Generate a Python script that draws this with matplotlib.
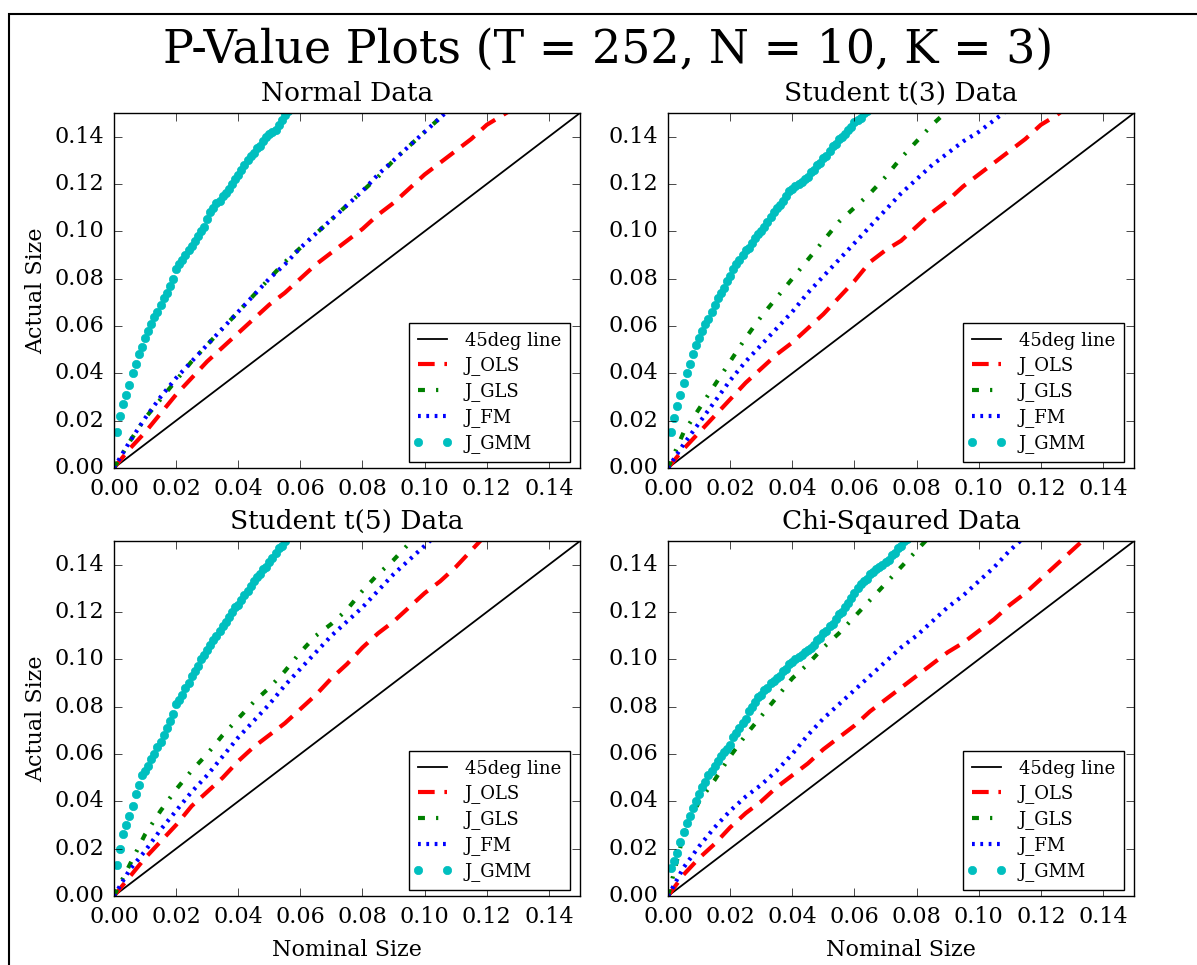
import numpy as np
import matplotlib
matplotlib.use('Agg')
import matplotlib.pyplot as plt
from matplotlib.patches import Rectangle
from matplotlib.lines import Line2D
from matplotlib.legend_handler import HandlerLine2D
from matplotlib.ticker import FormatStrFormatter

plt.style.use('classic')
plt.rcParams['font.family'] = 'serif'
plt.rcParams['lines.scale_dashes'] = False

# nominal size grids (fine grid for GMM markers, coarse for the lines)
nominal_fine = np.round(np.arange(1, 90) * 0.001, 3)
nominal_coarse = np.round(np.arange(0, 31) * 0.005, 3)

titles = ['Normal Data', 'Student t(3) Data', 'Student t(5) Data', 'Chi-Sqaured Data']

# J_OLS, on the coarse grid
ols_normal = [0.000, 0.008, 0.015, 0.023, 0.031, 0.038, 0.045, 0.051, 0.057, 0.063, 0.069,
              0.074, 0.080, 0.086, 0.091, 0.096, 0.101, 0.107, 0.112, 0.118, 0.124, 0.129,
              0.134, 0.139, 0.145, 0.149, 0.153]
ols_t3 = [0.000, 0.008, 0.015, 0.022, 0.029, 0.036, 0.042, 0.048, 0.053, 0.059, 0.065,
          0.072, 0.079, 0.087, 0.092, 0.096, 0.102, 0.108, 0.113, 0.119, 0.124, 0.129,
          0.134, 0.139, 0.145, 0.149, 0.154]
ols_t5 = [0.000, 0.008, 0.016, 0.023, 0.030, 0.038, 0.044, 0.050, 0.057, 0.063, 0.068,
          0.073, 0.079, 0.085, 0.092, 0.098, 0.105, 0.111, 0.116, 0.122, 0.128, 0.133,
          0.139, 0.146, 0.153]
ols_chi2 = [0.000, 0.009, 0.016, 0.022, 0.029, 0.035, 0.040, 0.046, 0.051, 0.056, 0.062,
            0.067, 0.072, 0.078, 0.083, 0.088, 0.093, 0.098, 0.103, 0.107, 0.112, 0.117,
            0.123, 0.128, 0.134, 0.140, 0.146, 0.152]

# J_GLS
gls_normal = [0.000, 0.011, 0.021, 0.029, 0.037, 0.045, 0.052, 0.059, 0.066, 0.073, 0.080,
              0.087, 0.093, 0.099, 0.105, 0.111, 0.117, 0.123, 0.130, 0.136, 0.142, 0.148,
              0.154]
gls_t3 = [0.000, 0.015, 0.025, 0.035, 0.045, 0.055, 0.064, 0.072, 0.080, 0.088, 0.096,
          0.104, 0.110, 0.116, 0.123, 0.131, 0.138, 0.145, 0.151]
gls_t5 = [0.000, 0.013, 0.026, 0.036, 0.045, 0.053, 0.060, 0.068, 0.075, 0.082, 0.088,
          0.095, 0.103, 0.110, 0.115, 0.121, 0.129, 0.136, 0.142, 0.149, 0.154]
gls_chi2 = [0.000, 0.026, 0.040, 0.049, 0.059, 0.068, 0.076, 0.084, 0.092, 0.098, 0.105,
            0.111, 0.118, 0.125, 0.132, 0.139, 0.146, 0.153]

# J_FM
fm_normal = [0.000, 0.011, 0.021, 0.030, 0.038, 0.045, 0.052, 0.059, 0.066, 0.073, 0.080,
             0.086, 0.093, 0.099, 0.105, 0.111, 0.117, 0.124, 0.130, 0.136, 0.142, 0.148,
             0.154]
fm_t3 = [0.000, 0.010, 0.019, 0.028, 0.037, 0.045, 0.052, 0.059, 0.066, 0.074, 0.081,
         0.088, 0.095, 0.102, 0.109, 0.116, 0.122, 0.128, 0.133, 0.138, 0.142, 0.147, 0.152]
fm_t5 = [0.000, 0.011, 0.019, 0.028, 0.036, 0.044, 0.051, 0.059, 0.067, 0.074, 0.081,
         0.089, 0.096, 0.103, 0.110, 0.116, 0.122, 0.129, 0.136, 0.142, 0.148, 0.154]
fm_chi2 = [0.000, 0.012, 0.021, 0.029, 0.036, 0.042, 0.047, 0.053, 0.060, 0.068, 0.075,
           0.081, 0.087, 0.093, 0.099, 0.105, 0.110, 0.116, 0.122, 0.127, 0.133, 0.139,
           0.146, 0.152]

# J_GMM, on the fine grid (starting at 0.001)
gmm_normal = [0.015, 0.022, 0.027, 0.031, 0.035, 0.040, 0.044, 0.048, 0.051, 0.055,
              0.058, 0.061, 0.064, 0.066, 0.069, 0.072, 0.074, 0.077, 0.080, 0.084,
              0.086, 0.088, 0.090, 0.092, 0.094, 0.096, 0.098, 0.100, 0.102, 0.105,
              0.108, 0.110, 0.112, 0.113, 0.115, 0.116, 0.118, 0.120, 0.122, 0.124,
              0.126, 0.128, 0.130, 0.132, 0.133, 0.135, 0.136, 0.138, 0.140, 0.141,
              0.142, 0.143, 0.145, 0.147, 0.149, 0.151]
gmm_t3 = [0.015, 0.021, 0.026, 0.031, 0.036, 0.040, 0.044, 0.048, 0.052, 0.055,
          0.058, 0.061, 0.063, 0.066, 0.069, 0.072, 0.074, 0.076, 0.079, 0.081,
          0.084, 0.086, 0.088, 0.090, 0.092, 0.093, 0.095, 0.097, 0.099, 0.100,
          0.102, 0.104, 0.106, 0.108, 0.110, 0.111, 0.113, 0.115, 0.117, 0.118,
          0.119, 0.120, 0.121, 0.122, 0.123, 0.125, 0.126, 0.128, 0.129, 0.131,
          0.132, 0.134, 0.136, 0.137, 0.139, 0.140, 0.141, 0.143, 0.144, 0.146,
          0.147, 0.148, 0.150, 0.151]
gmm_t5 = [0.013, 0.020, 0.026, 0.030, 0.034, 0.038, 0.043, 0.047, 0.051, 0.053,
          0.055, 0.058, 0.060, 0.063, 0.065, 0.068, 0.071, 0.074, 0.077, 0.081,
          0.083, 0.085, 0.088, 0.090, 0.093, 0.095, 0.097, 0.100, 0.102, 0.104,
          0.106, 0.108, 0.110, 0.112, 0.114, 0.116, 0.118, 0.120, 0.122, 0.123,
          0.125, 0.127, 0.129, 0.131, 0.133, 0.135, 0.136, 0.138, 0.139, 0.141,
          0.143, 0.145, 0.147, 0.148, 0.150, 0.152]
gmm_chi2 = [0.012, 0.015, 0.018, 0.023, 0.027, 0.031, 0.034, 0.037, 0.040, 0.043,
            0.046, 0.048, 0.051, 0.053, 0.055, 0.057, 0.059, 0.061, 0.062, 0.064,
            0.067, 0.069, 0.071, 0.073, 0.075, 0.078, 0.080, 0.082, 0.084, 0.085,
            0.087, 0.088, 0.090, 0.091, 0.092, 0.093, 0.095, 0.096, 0.098, 0.099,
            0.100, 0.101, 0.102, 0.103, 0.104, 0.105, 0.106, 0.108, 0.109, 0.111,
            0.112, 0.114, 0.115, 0.117, 0.119, 0.120, 0.122, 0.124, 0.126, 0.128,
            0.130, 0.132, 0.133, 0.134, 0.136, 0.137, 0.138, 0.139, 0.140, 0.141,
            0.142, 0.144, 0.145, 0.147, 0.148, 0.150, 0.151]

ols = [ols_normal, ols_t3, ols_t5, ols_chi2]
gls = [gls_normal, gls_t3, gls_t5, gls_chi2]
fm = [fm_normal, fm_t3, fm_t5, fm_chi2]
gmm = [gmm_normal, gmm_t3, gmm_t5, gmm_chi2]

fig, axes = plt.subplots(2, 2, figsize=(11.97, 9.65), dpi=100, facecolor='white')
fig.subplots_adjust(left=0.0952, right=0.9474, top=0.8829, bottom=0.0715,
                    wspace=0.189, hspace=0.206)

for i, ax in enumerate(axes.flat):
    ax.plot([0, 0.15], [0, 0.15], 'k-', lw=1.3, label='45deg line')
    ax.plot(nominal_coarse[:len(ols[i])], ols[i], color='r', ls='--', dashes=(12, 7),
            lw=3, label='J_OLS')
    ax.plot(nominal_coarse[:len(gls[i])], gls[i], color='g', ls='-.',
            dashes=(5, 8, 1.6, 8), lw=3, label='J_GLS')
    ax.plot(nominal_coarse[:len(fm[i])], fm[i], color='b', ls=':', dashes=(2, 4),
            lw=3, label='J_FM')
    ax.plot(nominal_fine[:len(gmm[i])], gmm[i], 'co', ms=6, mec='c', label='J_GMM')

    ax.set_xlim(0, 0.15)
    ax.set_ylim(0, 0.15)
    ax.set_xticks(np.arange(0, 0.15, 0.02))
    ax.set_yticks(np.arange(0, 0.15, 0.02))
    ax.xaxis.set_major_formatter(FormatStrFormatter('%.2f'))
    ax.yaxis.set_major_formatter(FormatStrFormatter('%.2f'))
    ax.tick_params(labelsize=16, length=6, pad=7)
    ax.set_title(titles[i], fontsize=19, pad=9)
    if i % 2 == 0:
        ax.set_ylabel('Actual Size', fontsize=16)
    if i >= 2:
        ax.set_xlabel('Nominal Size', fontsize=16, labelpad=8)
    ax.legend(loc='lower right', bbox_to_anchor=(0.9785, 0.017), borderaxespad=0,
              fontsize=13, numpoints=2, handlelength=1.6, handletextpad=1.0,
              labelspacing=0.38, borderpad=0.5, fancybox=False,
              handler_map={Line2D: HandlerLine2D(marker_pad=0)})

fig.suptitle('P-Value Plots (T = 252, N = 10, K = 3)', fontsize=33, x=0.508, y=0.948,
             va='center')

# border of the saved figure
fig.add_artist(Rectangle((9 / 1197, -0.1), 1.2, 0.1 + 1 - 14 / 965,
                         transform=fig.transFigure, fill=False, lw=1.5, color='k'))

fig.savefig('out.png', dpi=100, facecolor='white')
